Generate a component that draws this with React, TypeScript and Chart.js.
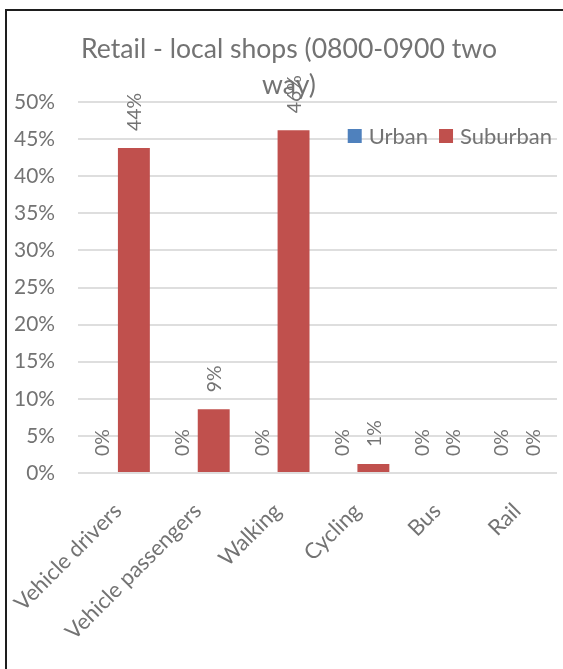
import React, { useEffect, useRef } from "react";
import { Chart, registerables } from "chart.js";

Chart.register(...registerables);

const categories = ["Vehicle drivers", "Vehicle passengers", "Walking", "Cycling", "Bus", "Rail"];
const seriesNames = ["Urban", "Suburban"];
const urbanValues = [0, 0, 0, 0, 0, 0];
const suburbanValues = [0.438, 0.086, 0.462, 0.012, 0, 0];
const seriesColors = ["#4F81BD", "#C0504D"];
const titleLines = ["Retail - local shops (0800-0900 two", "way)"];
const yMin = 0;
const yMax = 0.5;
const yStep = 0.05;

const FAMILY = "Lato";
const TEXT = "#737373";

function fitSize(text: string, target: number): number {
  const c = document.createElement("canvas").getContext("2d")!;
  c.font = `100px ${FAMILY}`;
  return (100 * target) / c.measureText(text).width;
}

const pct = (v: number) => Math.round(v * 100) + "%";

export default function App() {
  const ref = useRef<HTMLCanvasElement>(null);

  useEffect(() => {
    document.body.style.margin = "0";
    document.body.style.overflow = "hidden";
    const tickSize = fitSize("50%", 41);
    const xSize = fitSize("Vehicle drivers", 141);
    const legendSize = fitSize("Suburban", 92);
    const labelSize = fitSize("44%", 38);
    const titleSize = fitSize(titleLines[0], 416);

    const framePlugin = {
      id: "frame",
      beforeDraw(chart: any) {
        const ctx = chart.ctx;
        ctx.save();
        ctx.fillStyle = "#ffffff";
        ctx.fillRect(0, 0, chart.width, chart.height);
        ctx.fillStyle = "#1e1e1e";
        ctx.fillRect(6, 9, chart.width - 6, 2);
        ctx.fillRect(5, 9, 2, chart.height - 9);
        ctx.restore();
      },
    };

    const titlePlugin = {
      id: "xlTitle",
      afterDraw(chart: any) {
        const ctx = chart.ctx;
        ctx.save();
        ctx.font = `${titleSize}px ${FAMILY}`;
        ctx.fillStyle = TEXT;
        ctx.textAlign = "center";
        ctx.textBaseline = "alphabetic";
        const cx = 289;
        ctx.fillText(titleLines[0], cx, 58);
        ctx.fillText(titleLines[1], cx, 94);
        ctx.restore();
      },
    };

    const legendPlugin = {
      id: "xlLegend",
      afterDraw(chart: any) {
        const ctx = chart.ctx;
        ctx.save();
        ctx.font = `${legendSize}px ${FAMILY}`;
        ctx.textBaseline = "middle";
        ctx.textAlign = "left";
        const box = 14;
        const gap = 7;
        const itemGap = 11;
        const widths = seriesNames.map((n) => ctx.measureText(n).width);
        const total = widths.reduce((a, w) => a + box + gap + w, 0) + itemGap * (seriesNames.length - 1);
        let x = 552 - total;
        const cy = 136;
        seriesNames.forEach((n, i) => {
          ctx.fillStyle = seriesColors[i];
          ctx.fillRect(x, cy - box / 2, box, box);
          x += box + gap;
          ctx.fillStyle = TEXT;
          ctx.fillText(n, x, cy + 1);
          x += widths[i] + itemGap;
        });
        ctx.restore();
      },
    };

    const labelPlugin = {
      id: "barLabels",
      afterDatasetsDraw(chart: any) {
        const ctx = chart.ctx;
        ctx.save();
        ctx.font = `${labelSize}px ${FAMILY}`;
        ctx.fillStyle = TEXT;
        ctx.textAlign = "left";
        ctx.textBaseline = "middle";
        chart.data.datasets.forEach((ds: any, di: number) => {
          const meta = chart.getDatasetMeta(di);
          meta.data.forEach((el: any, i: number) => {
            const v = ds.data[i];
            ctx.save();
            ctx.translate(el.x + 1, el.y - 17);
            ctx.rotate(-Math.PI / 2);
            ctx.fillText(pct(v), 0, 0);
            ctx.restore();
          });
        });
        ctx.restore();
      },
    };

    const chart = new Chart(ref.current!, {
      type: "bar",
      data: {
        labels: categories,
        datasets: [
          { label: seriesNames[0], data: urbanValues, backgroundColor: seriesColors[0], borderWidth: 0 },
          { label: seriesNames[1], data: suburbanValues, backgroundColor: seriesColors[1], borderWidth: 0 },
        ],
      },
      options: {
        responsive: false,
        animation: false,
        devicePixelRatio: 1,
        layout: { padding: { top: 102, right: 6, bottom: 0, left: 0 } },
        datasets: { bar: { categoryPercentage: 0.8, barPercentage: 1.0 } },
        plugins: {
          legend: { display: false },
          title: { display: false },
          tooltip: { enabled: false },
        },
        scales: {
          x: {
            grid: { display: false },
            border: { display: false },
            ticks: {
              autoSkip: false,
              minRotation: 45,
              maxRotation: 45,
              padding: 17,
              color: TEXT,
              font: { family: FAMILY, size: xSize },
            },
            afterFit(scale: any) {
              scale.height = 196;
              scale.paddingLeft = 0;
              scale.paddingRight = 0;
            },
          },
          y: {
            min: yMin,
            max: yMax,
            grid: { color: "#dedede", lineWidth: 2, drawTicks: false },
            border: { display: false },
            ticks: {
              stepSize: yStep,
              padding: 23,
              color: TEXT,
              font: { family: FAMILY, size: tickSize },
              callback: (v: any) => pct(Number(v)),
            },
            afterFit(scale: any) {
              scale.width = 78;
              scale.paddingTop = 0;
              scale.paddingBottom = 0;
            },
          },
        },
      },
      plugins: [framePlugin, titlePlugin, legendPlugin, labelPlugin],
    });

    return () => chart.destroy();
  }, []);

  return (
    <div style={{ position: "fixed", left: 0, top: 0, width: 563, height: 669 }}>
      <canvas ref={ref} width={563} height={669} style={{ display: "block", width: 563, height: 669 }} />
    </div>
  );
}
